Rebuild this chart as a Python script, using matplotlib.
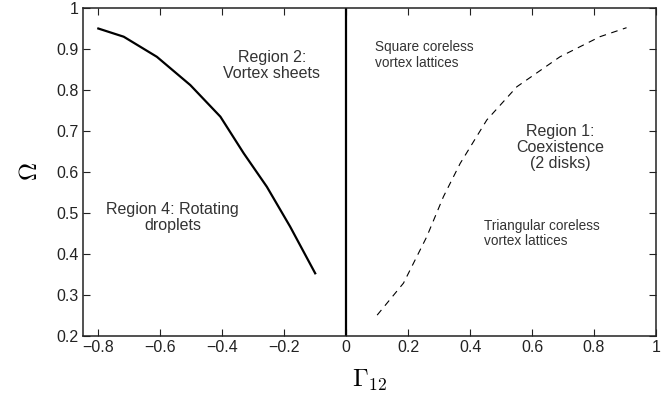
import matplotlib.pyplot as plt
from matplotlib.ticker import FuncFormatter

# solid boundary (region 2 / region 4)
gamma_solid = [-0.8, -0.718, -0.611, -0.503, -0.406, -0.331, -0.256, -0.181, -0.1]
omega_solid = [0.95, 0.93, 0.881, 0.812, 0.735, 0.646, 0.564, 0.467, 0.353]

# dashed boundary (square / triangular lattices)
gamma_dash = [0.1, 0.185, 0.26, 0.314, 0.368, 0.454, 0.551, 0.69, 0.819, 0.905]
omega_dash = [0.251, 0.329, 0.442, 0.54, 0.621, 0.727, 0.808, 0.881, 0.93, 0.952]

x_ticks = [-0.8, -0.6, -0.4, -0.2, 0, 0.2, 0.4, 0.6, 0.8, 1]
y_ticks = [0.2, 0.3, 0.4, 0.5, 0.6, 0.7, 0.8, 0.9, 1]

plt.rcParams['font.family'] = ['Liberation Sans', 'DejaVu Sans']
plt.rcParams['mathtext.fontset'] = 'cm'

fig, ax = plt.subplots(figsize=(6.68, 4.01), dpi=100)
fig.subplots_adjust(left=0.124, right=0.982, top=0.98, bottom=0.162)

ax.plot(gamma_solid, omega_solid, color='black', lw=1.6, solid_joinstyle='round')
ax.plot(gamma_dash, omega_dash, color='black', lw=0.8, dashes=(6, 5))
ax.axvline(0, color='black', lw=1.6)

ax.set_xlim(-0.85, 1)
ax.set_ylim(0.2, 1)
ax.set_xticks(x_ticks)
ax.set_yticks(y_ticks)
fmt = FuncFormatter(lambda v, p: ('%g' % v).replace('-', '\u2212'))
ax.xaxis.set_major_formatter(fmt)
ax.yaxis.set_major_formatter(fmt)
ax.tick_params(direction='in', top=True, right=True, length=5, width=0.8,
               labelsize=11.5, colors='#222222', pad=3)
for s in ax.spines.values():
    s.set_linewidth(1.1)
    s.set_color('#222222')

ax.set_xlabel(r'$\Gamma_{12}$', fontsize=18, labelpad=9)
ax.set_ylabel(r'$\Omega$', fontsize=18, labelpad=10)

ax.text(-0.24, 0.86, 'Region 2:\nVortex sheets', ha='center', va='center',
        fontsize=11.5, color='#333333', linespacing=1.1)
ax.text(-0.56, 0.49, 'Region 4: Rotating\ndroplets', ha='center', va='center',
        fontsize=11.5, color='#333333', linespacing=1.1)
ax.text(0.69, 0.66, 'Region 1:\nCoexistence\n(2 disks)', ha='center', va='center',
        fontsize=11.5, color='#333333', linespacing=1.1)
ax.text(0.094, 0.885, 'Square coreless\nvortex lattices', ha='left', va='center',
        fontsize=9.8, color='#333333', linespacing=1.15)
ax.text(0.445, 0.45, 'Triangular coreless\nvortex lattices', ha='left', va='center',
        fontsize=9.8, color='#333333', linespacing=1.15)

plt.savefig('out.png', dpi=100)
plt.close()
